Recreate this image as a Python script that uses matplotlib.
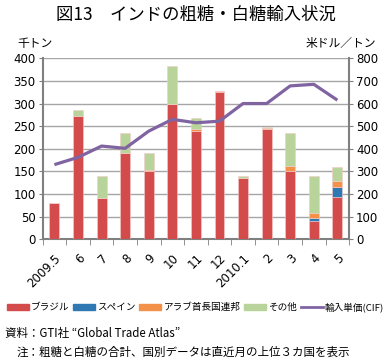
import matplotlib.pyplot as plt
import numpy as np
from matplotlib.lines import Line2D
from matplotlib.patches import Patch

plt.rcParams['font.family'] = ['Noto Sans CJK JP', 'DejaVu Sans']

# データ
months = ['2009.5', '6', '7', '8', '9', '10', '11', '12', '2010.1', '2', '3', '4', '5']
brazil = [80, 272, 91, 190, 152, 298, 240, 325, 136, 244, 150, 40, 93]
spain = [0, 0, 0, 0, 0, 0, 0, 0, 0, 0, 0, 7, 22]
uae = [0, 1, 0, 0, 2, 1, 3, 2, 0, 1, 12, 10, 13]
other = [0, 12, 49, 45, 37, 83, 26, 0, 4, 4, 72, 82, 32]
price = [330, 362, 412, 402, 478, 530, 515, 522, 600, 600, 678, 685, 615]

c_red = '#d44b4b'
c_blue = '#2e78b4'
c_orange = '#f39148'
c_green = '#b8d49a'
c_purple = '#8064a2'
c_grid = '#a6a6a6'

fig = plt.figure(figsize=(3.91, 3.62), dpi=100)
ax = fig.add_axes([0.109, 0.339, 0.784, 0.5])

x = np.arange(len(months))
w = 0.42
bottom = np.zeros(len(months))
for vals, col in [(brazil, c_red), (spain, c_blue), (uae, c_orange), (other, c_green)]:
    ax.bar(x, vals, w, bottom=bottom, color=col, edgecolor='#f4cccc', linewidth=0.4, zorder=3)
    bottom += np.array(vals)

ax.set_xlim(-0.5, len(months) - 0.5)
ax.set_ylim(0, 400)
ax.set_yticks(range(0, 401, 50))
ax.grid(axis='y', color=c_grid, linewidth=1.0, zorder=0)
ax.set_xticks(x)
ax.set_xticklabels(months, rotation=45, ha='right', rotation_mode='anchor', fontsize=8.5,
                   family=['DejaVu Sans'])
ax.set_xticks(np.arange(-0.5, len(months)), minor=True)
ax.tick_params(axis='x', which='major', length=0, pad=9)
ax.tick_params(axis='x', which='minor', length=4, color='#808080', direction='out')
ax.tick_params(axis='y', length=3, color='#808080', labelsize=8.5, pad=2)
for t in ax.get_yticklabels():
    t.set_family(['DejaVu Sans'])
for s in ['top', 'right']:
    ax.spines[s].set_visible(False)
for s in ['left', 'bottom']:
    ax.spines[s].set_color('#808080')
    ax.spines[s].set_linewidth(1.5)

ax2 = ax.twinx()
ax2.plot(x, price, color=c_purple, linewidth=2.3, zorder=4, solid_capstyle='butt')
ax2.set_ylim(0, 800)
ax2.set_yticks(range(0, 801, 100))
ax2.tick_params(axis='y', length=3, color='#808080', labelsize=8.5, pad=2)
for t in ax2.get_yticklabels():
    t.set_family(['DejaVu Sans'])
for s in ['top', 'left', 'bottom']:
    ax2.spines[s].set_visible(False)
ax2.spines['right'].set_color('#808080')
ax2.spines['right'].set_linewidth(1.5)

fig.text(0.5, 1 - 15 / 362, '図13　インドの粗糖・白糖輸入状況', ha='center', va='center', fontsize=12.5)
fig.text(35 / 391, 1 - 43 / 362, '千トン', ha='center', va='center', fontsize=8.5)
fig.text(341 / 391, 1 - 43 / 362, '米ドル／トン', ha='center', va='center', fontsize=8.5)

handles = [Patch(color=c_red), Patch(color=c_blue), Patch(color=c_orange), Patch(color=c_green),
           Line2D([], [], color=c_purple, linewidth=2)]
labels = ['ブラジル', 'スペイン', 'アラブ首長国連邦', 'その他', '輸入単価(CIF)']
fig.legend(handles, labels, loc='center', bbox_to_anchor=(0.5, 1 - 307 / 362), ncol=5,
           frameon=False, fontsize=6.9, handlelength=2.3, handleheight=0.6, handletextpad=0.25,
           columnspacing=0.35, borderaxespad=0, borderpad=0)

fig.text(5 / 391, 1 - 333 / 362, '資料：GTI社 “Global Trade Atlas”', ha='left', va='center', fontsize=8.3)
fig.text(17 / 391, 1 - 352 / 362, '注：粗糖と白糖の合計、国別データは直近月の上位３カ国を表示', ha='left', va='center', fontsize=8.3)

fig.savefig('out.png', dpi=100)
